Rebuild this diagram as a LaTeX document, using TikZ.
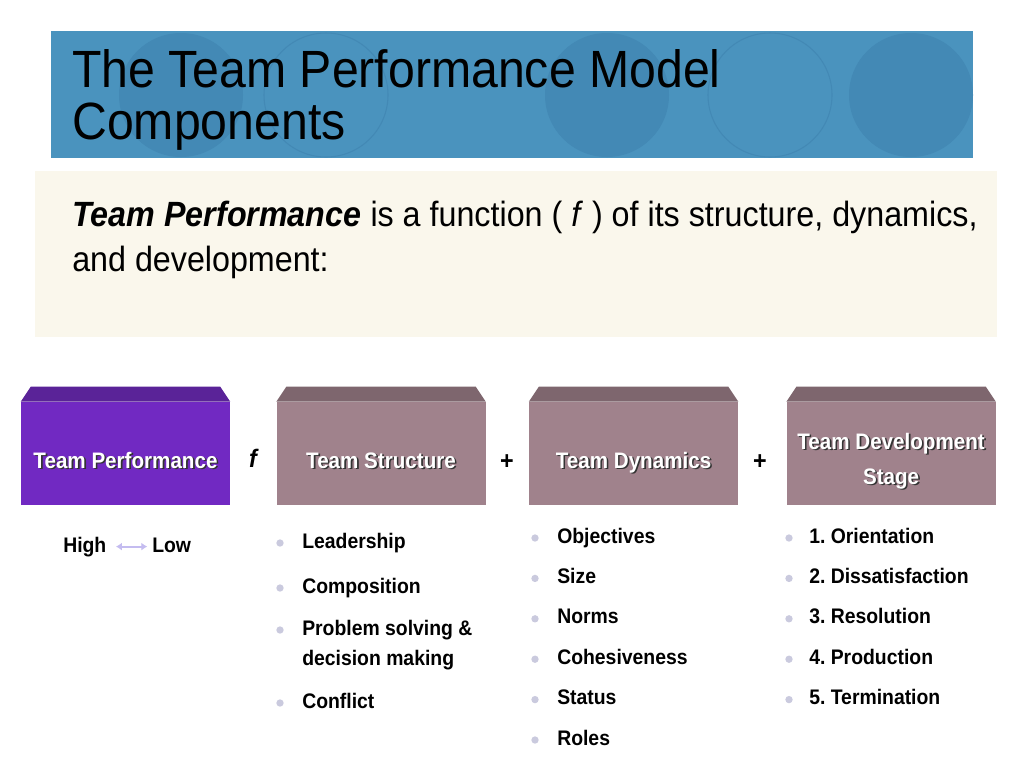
\documentclass[tikz,border=0pt]{standalone}
\usepackage{fontspec}
\setmainfont{Liberation Sans}[FakeStretch=0.92]
\usepackage{tikz}
\usetikzlibrary{
	positioning,
	arrows.meta
}

\definecolor{bandblue}{HTML}{4A93BE}
\definecolor{ringblue}{HTML}{4389B5}
\definecolor{paper}{HTML}{FAF7EC}
\definecolor{perfpurple}{HTML}{7129C2}
\definecolor{perftop}{HTML}{5A2398}
\definecolor{partmauve}{HTML}{A0828C}
\definecolor{parttop}{HTML}{7E666E}
\definecolor{dotgray}{HTML}{CACADE}
\definecolor{arrowlav}{HTML}{C4BCF0}

% white text with a dark drop shadow
\newcommand{\embossed}[1]{\makebox[0pt][l]{\kern1.2pt\raisebox{-1.2pt}{\color{black!80}#1}}#1}

\tikzset{
	block/.style={minimum width=156.75pt, minimum height=77.25pt, inner sep=0pt},
	blocklabel/.style={font=\fontsize{16.8}{26.25}\selectfont\bfseries, text=white, align=center, anchor=base, inner sep=0pt},
	op/.style={font=\fontsize{19}{20}\selectfont\bfseries, anchor=base, inner sep=0pt},
	item/.style={font=\fontsize{15.8}{22.5}\selectfont\bfseries\frenchspacing, align=left, anchor=base west, inner sep=0pt},
	dot/.style={circle, fill=dotgray, minimum size=5.5pt, inner sep=0pt}
}

\begin{document}
\begin{tikzpicture}[x=0.75pt, y=-0.75pt]
	\fill[white] (0,0) rectangle (1024,768);

	% title band
	\fill[bandblue] (51,31) rectangle (973,158);
	\begin{scope}
		\clip (51,31) rectangle (973,158);
		\fill[ringblue] (181,95) circle (46.5pt);
		\draw[ringblue, line width=0.8pt] (326,95) circle (46.5pt);
		\fill[ringblue] (607,95) circle (46.5pt);
		\draw[ringblue, line width=0.8pt] (770,95) circle (46.5pt);
		\fill[ringblue] (911,95) circle (46.5pt);
	\end{scope}
	% base = last line
	\node[anchor=base west, font=\fontsize{39.3}{39}\selectfont, align=left, inner sep=0pt] (title) at (72,139)
		{The Team Performance Model\\Components};

	% statement
	\fill[paper] (35,171) rectangle (997,337);
	\node[anchor=base west, font=\fontsize{26.3}{33.75}\selectfont, align=left, inner sep=0pt] (intro) at (72,271)
		{\textbf{\textit{Team Performance}} is a function ( \textit{f} ) of its structure, dynamics,\\and development:};

	% blocks
	\node[block, fill=perfpurple] (perf) at (125.5,453.5) {};
	\node[block, fill=partmauve, right=34.5pt of perf] (struct) {};
	\node[block, fill=partmauve, right=32.25pt of struct] (dyn) {};
	\node[block, fill=partmauve, right=36pt of dyn] (stage) {};
	\foreach \b/\c in {perf/perftop, struct/parttop, dyn/parttop, stage/parttop}
		\fill[\c] (\b.north west) -- ([xshift=7.5pt, yshift=11.25pt]\b.north west)
			-- ([xshift=-7.5pt, yshift=11.25pt]\b.north east) -- (\b.north east) -- cycle;

	\node[blocklabel] (perflabel) at ([yshift=-10.9pt]perf.center) {\embossed{Team Performance}};
	\node[blocklabel] (structlabel) at ([yshift=-10.9pt]struct.center) {\embossed{Team Structure}};
	\node[blocklabel] (dynlabel) at ([yshift=-10.9pt]dyn.center) {\embossed{Team Dynamics}};
	\node[blocklabel] (stagelabel) at ([yshift=-22.9pt]stage.center) {\embossed{Team Development}\\\embossed{Stage}};

	\node[op] (fn) at (253,467) {\itshape f};
	\node[op] (plusa) at (507,469) {+};
	\node[op] (plusb) at (760,469) {+};

	% high -- low
	\node[item] (high) at (63,552) {High};
	\node[item] (low) at (152,552) {Low};
	\draw[arrowlav, line width=1.6pt, {Latex[length=4.5pt,width=6pt]}-{Latex[length=4.5pt,width=6pt]},
		shorten <=7pt, shorten >=3.5pt] (high.east) -- (high.east -| low.west);

	% lists
	\foreach \t/\y/\d [count=\i] in {Leadership/548/543, Composition/593/588, {Problem solving \&\\decision making}/665/630, Conflict/708/703} {
		\node[item] (st\i) at (302,\y) {\t};
		\node[dot] (stdot\i) at (280,\d) {};
	}
	\foreach \t [count=\i] in {Objectives, Size, Norms, Cohesiveness, Status, Roles} {
		\node[item] (dy\i) at (557,{543+40.4*(\i-1)}) {\t};
		\node[dot] (dydot\i) at ([xshift=-16.5pt, yshift=3.75pt]dy\i.base west) {};
	}
	\foreach \t [count=\i] in {1. Orientation, 2. Dissatisfaction, 3. Resolution, 4. Production, 5. Termination} {
		\node[item] (dv\i) at (809,{543+40.4*(\i-1)}) {\t};
		\node[dot] (dvdot\i) at ([xshift=-15pt, yshift=3.75pt]dv\i.base west) {};
	}
\end{tikzpicture}
\end{document}
